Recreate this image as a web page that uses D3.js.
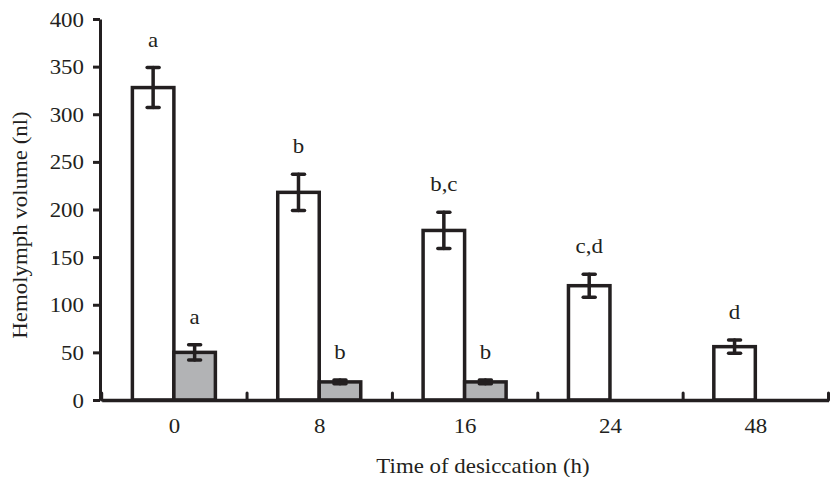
<!DOCTYPE html>
<html>
<head>
<meta charset="utf-8">
<script src="https://cdn.jsdelivr.net/npm/d3@7"></script>
<style>
  body { margin: 0; background: #fff; }
  svg text { font-family: "Liberation Serif", "Times New Roman", serif; fill: #231f20; }
</style>
</head>
<body>
<div id="chart"></div>
<script>
// Hemolymph volume after desiccation

//Data
var hours = ["0", "8", "16", "24", "48"];
var series = ["open", "grey"];
var openVals = [328, 218, 178, 120, 56];
var openErr = [21, 19, 19, 12, 7];
var openLetters = ["a", "b", "b,c", "c,d", "d"];
var greyVals = [50, 19, 19, null, null];
var greyErr = [8, 2, 2, null, null];
var greyLetters = ["a", "b", "b", null, null];
var yTicks = [0, 50, 100, 150, 200, 250, 300, 350, 400];

var width = 835, height = 477;
var ink = "#231f20";
var sx = 1.09;   //the original type looks a bit wide

var svg = d3.select("#chart")
    .append("svg")
    .attr("width", width)
    .attr("height", height);

var x = d3.scaleBand()
    .domain(hours)
    .range([101.7, 828.5])
    .padding(0);

var x1 = d3.scaleBand()
    .domain(series)
    .range([-42, 41]);

var y = d3.scaleLinear()
    .domain([0, 400])
    .range([400, 19]);

//Build rows for each bar
var bars = [];
hours.forEach(function(h, i) {
    bars.push({hour: h, s: "open", v: openVals[i], e: openErr[i], lab: openLetters[i]});
    if (greyVals[i] != null) {
        bars.push({hour: h, s: "grey", v: greyVals[i], e: greyErr[i], lab: greyLetters[i]});
    }
});

function cx(d) {
    return x(d.hour) + x.bandwidth() / 2 + x1(d.s);
}

//Put text at (px,py) and stretch it sideways
function place(sel, px, py) {
    sel.attr("x", null).attr("y", null)
        .attr("transform", function(d) {
            var a = typeof px == "function" ? px(d) : px;
            var b = typeof py == "function" ? py(d) : py;
            return "translate(" + a + "," + b + ") scale(" + sx + ",1)";
        });
}

//Bars
svg.append("g")
    .selectAll("rect")
    .data(bars)
    .enter()
    .append("rect")
    .attr("x", d => cx(d))
    .attr("y", d => y(d.v))
    .attr("width", x1.bandwidth())
    .attr("height", d => y(0) - y(d.v))
    .style("fill", d => d.s == "open" ? "#ffffff" : "#b2b3b5")
    .style("stroke", ink)
    .style("stroke-width", 3.5);

//Error bars
var err = svg.append("g")
    .selectAll("g")
    .data(bars)
    .enter()
    .append("g")
    .style("stroke", ink)
    .style("stroke-width", 3.5)
    .style("stroke-linecap", "round");

err.append("line")
    .attr("x1", d => cx(d) + x1.bandwidth() / 2)
    .attr("x2", d => cx(d) + x1.bandwidth() / 2)
    .attr("y1", d => y(d.v + d.e))
    .attr("y2", d => y(d.v - d.e));

[1, -1].forEach(function(sign) {
    err.append("line")
        .attr("x1", d => cx(d) + x1.bandwidth() / 2 - 6)
        .attr("x2", d => cx(d) + x1.bandwidth() / 2 + 6)
        .attr("y1", d => y(d.v + sign * d.e))
        .attr("y2", d => y(d.v + sign * d.e));
});

//Significance letters
svg.append("g")
    .selectAll("text")
    .data(bars)
    .enter()
    .append("text")
    .attr("text-anchor", "middle")
    .style("font-size", "21px")
    .text(d => d.lab)
    .call(place, d => cx(d) + x1.bandwidth() / 2, d => y(d.v + d.e) - 21);

//Y axis
var yAxis = svg.append("g")
    .attr("transform", "translate(100,0)")
    .call(d3.axisLeft(y).tickValues(yTicks).tickSize(7).tickSizeOuter(0).tickPadding(9));

yAxis.select(".domain").style("stroke", ink).style("stroke-width", 3);
yAxis.selectAll(".tick line").style("stroke", ink).style("stroke-width", 3);
yAxis.selectAll(".tick text")
    .attr("font-family", null)
    .attr("fill", null)
    .attr("dy", null)
    .style("font-size", "21px")
    .call(place, -16, 7);

//X axis
var xAxis = svg.append("g")
    .attr("transform", "translate(0,400)")
    .call(d3.axisBottom(x).tickSize(0).tickSizeOuter(0));

xAxis.select(".domain").style("stroke", ink).style("stroke-width", 3.5);
xAxis.selectAll(".tick text")
    .attr("font-family", null)
    .attr("fill", null)
    .attr("dy", null)
    .style("font-size", "21px")
    .call(place, 0, 33);

//Category boundary ticks pointing up
var bounds = hours.map(h => x(h)).concat([x.range()[1]]);
svg.append("g")
    .selectAll("line")
    .data(bounds)
    .enter()
    .append("line")
    .attr("x1", d => d)
    .attr("x2", d => d)
    .attr("y1", 400)
    .attr("y2", 393)
    .style("stroke", ink)
    .style("stroke-width", 3)
    .style("stroke-linecap", "round");

//Axis titles
svg.append("text")
    .attr("text-anchor", "middle")
    .style("font-size", "21px")
    .text("Time of desiccation (h)")
    .call(place, 483, 473);

svg.append("text")
    .attr("transform", "translate(27,225) rotate(-90) scale(" + sx + ",1)")
    .attr("text-anchor", "middle")
    .style("font-size", "21px")
    .text("Hemolymph volume (nl)");
</script>
</body>
</html>
